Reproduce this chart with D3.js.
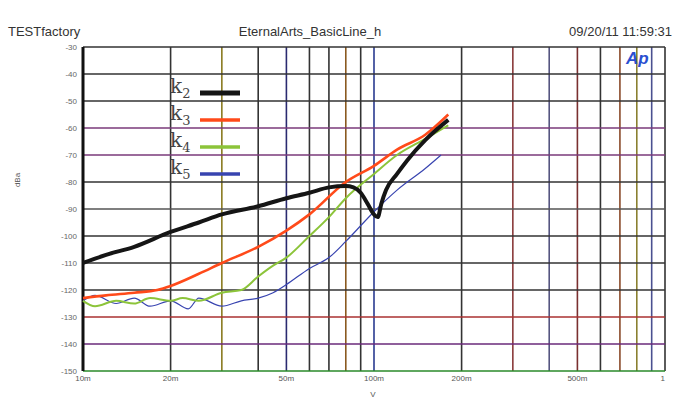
<!DOCTYPE html>
<html><head><meta charset="utf-8">
<script src="https://cdn.jsdelivr.net/npm/d3@7/dist/d3.min.js"></script>
<style>body{margin:0;background:#fff}</style>
</head><body>
<svg id="c" width="681" height="403"></svg>
<script>
// data (volts, dB)
var k2X = [0.010,0.012,0.015,0.020,0.025,0.030,0.040,0.050,0.060,0.070,0.080,0.085,0.090,0.095,0.100,0.103,0.106,0.110,0.120,0.130,0.150,0.180];
var k2Y = [-110,-107,-104,-98.5,-95,-92,-89,-86,-84,-82,-81.5,-82,-84,-88,-92,-93,-88,-83,-77,-72,-64.5,-57];
var k3X = [0.010,0.012,0.015,0.018,0.020,0.025,0.030,0.040,0.050,0.060,0.080,0.100,0.120,0.150,0.180];
var k3Y = [-123,-122,-121,-120,-118.5,-114,-110,-104,-98,-92,-80,-74,-68,-62.5,-55];
var k4X = [0.010,0.011,0.013,0.015,0.017,0.020,0.022,0.025,0.030,0.035,0.040,0.045,0.050,0.060,0.070,0.080,0.100,0.120,0.150,0.180];
var k4Y = [-124,-126,-124,-125,-123,-124,-123,-124,-121,-120,-115,-111,-108,-100,-93,-86,-77,-70,-64,-59];
var k5X = [0.010,0.011,0.013,0.015,0.017,0.020,0.023,0.025,0.030,0.035,0.040,0.045,0.050,0.060,0.070,0.080,0.100,0.120,0.150,0.170];
var k5Y = [-124,-122,-125,-123,-126,-124,-127,-123,-126,-124,-123,-121,-118,-112,-108,-102,-91,-83,-75,-70];
var yTicks = [-30,-40,-50,-60,-70,-80,-90,-100,-110,-120,-130,-140,-150];
var xGrid = [0.01,0.02,0.03,0.04,0.05,0.06,0.07,0.08,0.09,0.1,0.2,0.3,0.4,0.5,0.6,0.7,0.8,0.9,1];
var xLabels = [[0.01,"10m"],[0.02,"20m"],[0.05,"50m"],[0.1,"100m"],[0.2,"200m"],[0.5,"500m"],[1,"1"]];
var vColors = ["#222","#333","#8a7a20","#333","#2a2a70","#333","#333","#8a5a20","#333","#2a3a90","#333","#8a3a3a","#555580","#7a3030","#333","#8a4a2a","#8a8030","#4a5090","#333"];
var hColors = ["#333","#333","#333","#7a3a7a","#7a3a7a","#333","#555","#333","#333","#333","#aa3030","#6a2a7a","#2a8a2a"];

var svg = d3.select("#c");
var L = 83, R = 665, T = 47, B = 371;
var x = d3.scaleLog().domain([0.01, 1]).range([L, R]);
var y = d3.scaleLinear().domain([-150, -30]).range([B, T]);

svg.selectAll(".vg").data(xGrid).enter().append("line")
  .attr("x1", function (d) { return x(d); }).attr("x2", function (d) { return x(d); })
  .attr("y1", T).attr("y2", B)
  .attr("stroke", function (d, i) { return vColors[i]; }).attr("stroke-width", 1.6);
svg.selectAll(".hg").data(yTicks).enter().append("line")
  .attr("x1", L).attr("x2", R)
  .attr("y1", function (d) { return y(d); }).attr("y2", function (d) { return y(d); })
  .attr("stroke", function (d, i) { return hColors[i]; }).attr("stroke-width", 1.6);
svg.append("line").attr("x1", L).attr("x2", L).attr("y1", T).attr("y2", B).attr("stroke", "#111").attr("stroke-width", 3);

svg.selectAll(".yl").data(yTicks).enter().append("text")
  .attr("x", L - 6).attr("y", function (d) { return y(d) + 3; })
  .attr("text-anchor", "end").attr("font-family", "Arial").attr("font-size", 8).attr("fill", "#666")
  .text(function (d) { return d; });
svg.selectAll(".xl").data(xLabels).enter().append("text")
  .attr("x", function (d) { return x(d[0]); }).attr("y", B + 10)
  .attr("text-anchor", function (d) { return d[0] === 1 ? "end" : "middle"; })
  .attr("font-family", "Arial").attr("font-size", 8).attr("fill", "#555")
  .text(function (d) { return d[1]; });
svg.append("text").attr("x", 373).attr("y", 397).attr("text-anchor", "middle")
  .attr("font-family", "Arial").attr("font-size", 8).attr("fill", "#555").text("V");
svg.append("text").attr("transform", "translate(20,180) rotate(-90)").attr("text-anchor", "middle")
  .attr("font-family", "Arial").attr("font-size", 8).attr("fill", "#555").text("dBa");

var hdr = [[8, "start", "TESTfactory"], [310, "middle", "EternalArts_BasicLine_h"], [672, "end", "09/20/11 11:59:31"]];
svg.selectAll(".hd").data(hdr).enter().append("text")
  .attr("x", function (d) { return d[0]; }).attr("y", 36).attr("text-anchor", function (d) { return d[1]; })
  .attr("font-family", "Arial").attr("font-size", 13).attr("fill", "#333").text(function (d) { return d[2]; });
svg.append("text").attr("x", 626).attr("y", 64).attr("font-family", "Arial").attr("font-weight", "bold")
  .attr("font-style", "italic").attr("font-size", 17).attr("fill", "#2a4fd0").text("Ap");

var line = d3.line().x(function (d) { return x(d[0]); }).y(function (d) { return y(d[1]); }).curve(d3.curveMonotoneX);
var series = [
  { xs: k5X, ys: k5Y, c: "#3844b0", w: 1.2, n: "5" },
  { xs: k4X, ys: k4Y, c: "#8cc43a", w: 2, n: "4" },
  { xs: k3X, ys: k3Y, c: "#ff4a1a", w: 2.6, n: "3" },
  { xs: k2X, ys: k2Y, c: "#151515", w: 4, n: "2" }
];
series.forEach(function (s) {
  svg.append("path").attr("d", line(d3.zip(s.xs, s.ys))).attr("fill", "none")
    .attr("stroke", s.c).attr("stroke-width", s.w).attr("stroke-linejoin", "round");
});
var leg = series.slice().reverse();
leg.forEach(function (s, i) {
  var ly = 93 + i * 27;
  var t = svg.append("text").attr("x", 170).attr("y", ly).attr("font-family", "DejaVu Serif").attr("font-size", 20).attr("fill", "#444");
  t.append("tspan").text("k");
  t.append("tspan").attr("dy", 5).attr("font-size", 13).text(s.n);
  svg.append("line").attr("x1", 200).attr("x2", 240).attr("y1", ly).attr("y2", ly)
    .attr("stroke", s.c).attr("stroke-width", i === 0 ? 5 : 3.5);
});
</script>
</body></html>
